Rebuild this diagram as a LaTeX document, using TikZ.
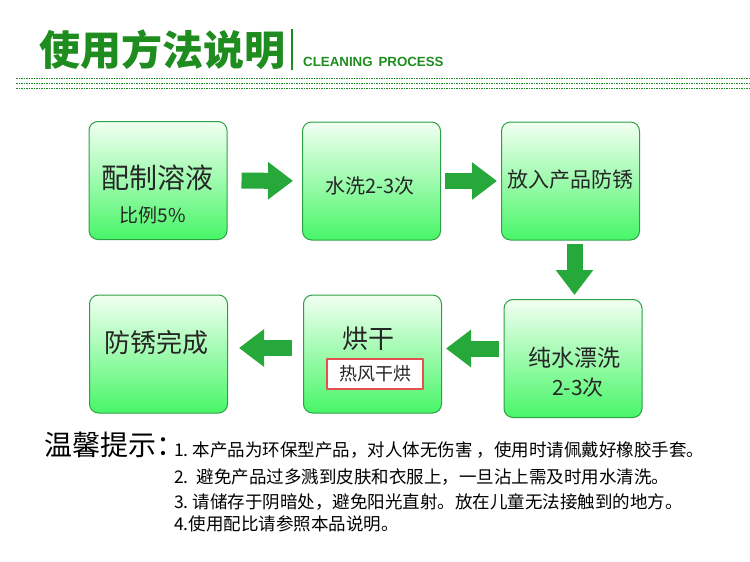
\documentclass[tikz,border=0pt]{standalone}
\usepackage{fontspec}
\setmainfont{Noto Sans CJK SC}
\newfontfamily\latinfont{Liberation Sans}
\usepackage{tikz}
\usetikzlibrary{arrows.meta}
\usetikzlibrary{positioning}

\definecolor{verdetitolo}{RGB}{30,140,30}
\definecolor{verdefreccia}{RGB}{38,168,58}
\definecolor{verdebordo}{RGB}{45,160,70}
\definecolor{verdealto}{RGB}{242,255,242}
\definecolor{verdemedio}{RGB}{190,250,200}
\definecolor{verdebasso}{RGB}{72,246,104}
\definecolor{rosso}{RGB}{228,80,80}

\begin{document}
\begin{tikzpicture}[line cap=round,line join=round,x=1pt,y=-1pt,
		passo/.style={draw=verdebordo,line width=1pt,rounded corners=9pt,
			top color=verdealto,middle color=verdemedio,bottom color=verdebasso,
			minimum width=138pt,minimum height=118pt,inner sep=0pt},
		freccia/.style={line width=16pt,color=verdefreccia,line cap=butt,
			-{Triangle[length=25pt,width=36pt]}},
		testo/.style={text=black!85,inner sep=0pt}]
		\useasboundingbox (0,0) rectangle (750,562);
		% titolo
		\node[anchor=west,inner sep=0pt,text=verdetitolo] (titolo) at (39,50)
			{\fontsize{41}{44}\selectfont\bfseries 使用方法说明};
		\draw[verdetitolo,line width=1.8pt,line cap=butt] (292,29) -- (292,70); %barra
		\node[anchor=west,inner sep=0pt,text=verdetitolo] (sottotitolo) at (303,62)
			{\latinfont\fontsize{13.3}{14}\selectfont\bfseries CLEANING\ \,PROCESS};
		\foreach \y in {78,83,88}
			\draw[verdetitolo,line width=0.5pt,line cap=butt,dash pattern=on 1.5pt off 1pt] (16,\y) -- (750,\y);
		% riquadri
		\node[passo] (b1) at (158,180.5) {};
		\node[passo] (b2) at (371.5,181) {};
		\node[passo] (b3) at (570.5,181) {};
		\node[passo] (b4) at (573,358.5) {};
		\node[passo] (b5) at (372.5,354) {};
		\node[passo] (b6) at (158.5,354) {};
		% testi
		\node[testo] (t1) at (157,178) {\fontsize{28}{30}\selectfont 配制溶液};
		\node[testo] (t1b) at (153,215) {\fontsize{19}{21}\selectfont 比例5\%};
		\node[testo] (t2) at (370,186) {\fontsize{20}{22}\selectfont 水洗2-3次};
		\node[testo] (t3) at (570,180) {\fontsize{21}{23}\selectfont 放入产品防锈};
		\node[testo] (t4) at (574,358) {\fontsize{23}{25}\selectfont 纯水漂洗};
		\node[testo] (t4b) at (578,388) {\fontsize{21}{23}\selectfont 2-3次};
		\node[testo] (t5) at (368,339) {\fontsize{26}{28}\selectfont 烘干};
		\node[draw=rosso,line width=1.2pt,fill=white,minimum width=96pt,
			minimum height=30pt,inner sep=0pt,text=black!85] (t5b) at (375,374)
			{\fontsize{18}{20}\selectfont 热风干烘};
		\node[testo] (t6) at (156,343) {\fontsize{26}{28}\selectfont 防锈完成};
		% frecce
		\draw[freccia,shorten <=14pt,shorten >=9pt] (b1) -- (b2);
		\draw[freccia,shorten <=4pt,shorten >=4pt] (b2) -- (b3);
		\draw[freccia,shorten <=3pt,shorten >=4pt] ([xshift=4pt]b3.south) -- ([xshift=4pt]b3.south |- b4.north);
		\draw[freccia,shorten <=5pt,shorten >=4pt] ([yshift=10pt]b4.west) -- ([yshift=10pt]b4.west -| b5.east);
		\draw[freccia,shorten <=11pt,shorten >=11pt] ([yshift=6pt]b5.west) -- ([yshift=6pt]b5.west -| b6.east);
		% note
		\node[anchor=west,inner sep=0pt] (avviso) at (44,445)
			{\fontsize{28}{30}\selectfont 温馨提示：};
		\node[anchor=west,inner sep=0pt] (n1) at (174,450)
			{\fontsize{17.5}{19}\selectfont 1.\ 本产品为环保型产品，对人体无伤害 ，使用时请佩戴好橡胶手套。};
		\node[anchor=west,inner sep=0pt] (n2) at (174,477)
			{\fontsize{17.5}{19}\selectfont 2.\ \ 避免产品过多溅到皮肤和衣服上，一旦沾上需及时用水清洗。};
		\node[anchor=west,inner sep=0pt] (n3) at (174,502)
			{\fontsize{17.5}{19}\selectfont 3.\ 请储存于阴暗处，避免阳光直射。放在儿童无法接触到的地方。};
		\node[anchor=west,inner sep=0pt] (n4) at (174,524)
			{\fontsize{17.5}{19}\selectfont 4.使用配比请参照本品说明。};
\end{tikzpicture}
\end{document}
